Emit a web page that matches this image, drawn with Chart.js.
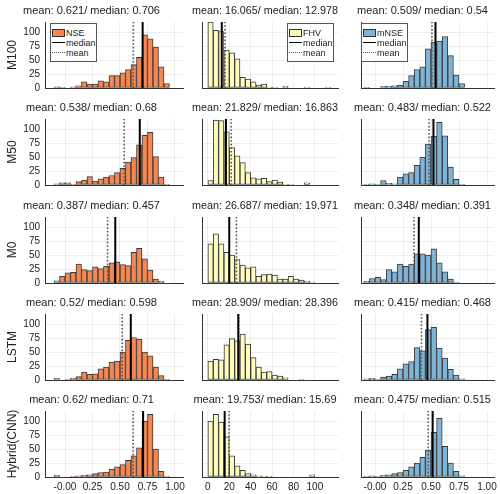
<!DOCTYPE html>
<html>
<head>
<meta charset="utf-8">
<script src="https://cdn.jsdelivr.net/npm/chart.js@4.4.0/dist/chart.umd.min.js"></script>
<style>
  body { margin: 0; background: #fff; }
  #wrap { position: relative; width: 500px; height: 494px; overflow: hidden; font-family: 'Liberation Sans', Arial, sans-serif; }
  #wrap canvas { position: absolute; }
  .legend { position: absolute; box-sizing: border-box; width: 47px; height: 39px; background: #fff; border: 1px solid #555;
            font-size: 9px; line-height: 10px; padding: 4px 0 0 1px; color: #222; }
  .legend div { white-space: nowrap; height: 10px; }
  .sw { display: inline-block; width: 13px; height: 8px; border: 1px solid #333; box-sizing: border-box; vertical-align: -1px; margin-right: 1px; }
  .ln { display: inline-block; width: 13px; height: 0; border-top: 1.5px solid #000; vertical-align: 3px; margin-right: 1px; }
  .dt { display: inline-block; width: 13px; height: 0; border-top: 1.5px dotted #555; vertical-align: 3px; margin-right: 1px; }
</style>
</head>
<body>
<div id="wrap"></div>
<script>
const rows = ['M100', 'M50', 'M0', 'LSTM', 'Hybrid(CNN)'];

// histogram bins: first bin start and bin width
const nseStart = -0.1, nseWidth = 0.05;
const fhvStart = 0, fhvWidth = 5;
const mnseStart = -0.1, mnseWidth = 0.05;

// NSE counts per bin
const nseM100 = [2, 1, 0, 2, 4, 11, 7, 7, 13, 11, 22, 22, 27, 33, 42, 55, 95, 88, 73, 38, 8];
const nseM50 = [2, 4, 4, 1, 6, 9, 15, 7, 11, 14, 17, 22, 30, 41, 49, 72, 89, 94, 51, 14, 1];
const nseM0 = [4, 12, 18, 19, 34, 24, 22, 29, 26, 30, 36, 38, 33, 31, 55, 62, 43, 23, 7, 3];
const nseLSTM = [3, 0, 1, 3, 6, 14, 10, 11, 20, 23, 32, 34, 50, 71, 76, 73, 50, 43, 23, 8, 1];
const nseHybrid = [3, 0, 0, 1, 2, 3, 4, 6, 8, 9, 14, 18, 22, 30, 38, 52, 100, 112, 50, 10, 1];

// FHV counts per bin
const fhvM100 = [118, 103, 101, 68, 63, 52, 19, 16, 11, 5, 7, 1, 1, 0, 3, 0, 0, 0, 1, 0, 0, 0, 1];
const fhvM50 = [8, 116, 115, 95, 67, 52, 40, 22, 13, 11, 12, 6, 9, 5, 1, 1, 0, 0, 4];
const fhvM0 = [70, 88, 70, 55, 50, 42, 32, 27, 29, 12, 15, 16, 14, 7, 7, 12, 7, 5, 3, 1];
const fhvLSTM = [34, 37, 36, 63, 74, 70, 82, 64, 40, 23, 14, 15, 9, 7, 4, 0, 0, 1];
const fhvHybrid = [100, 112, 98, 72, 38, 20, 12, 6, 4, 2, 1, 1, 0, 0, 0, 0, 0, 0, 0, 4];

// mNSE counts per bin
const mnseM100 = [1, 0, 0, 3, 3, 4, 5, 12, 22, 33, 38, 70, 82, 84, 92, 58, 23, 8];
const mnseM50 = [1, 2, 1, 8, 3, 2, 14, 20, 22, 35, 50, 73, 87, 112, 88, 32, 10, 1];
const mnseM0 = [3, 8, 10, 6, 24, 20, 34, 30, 34, 52, 52, 50, 61, 36, 20, 7, 1];
const mnseLSTM = [2, 3, 1, 5, 7, 10, 20, 29, 33, 58, 52, 90, 94, 57, 39, 19, 9, 2];
const mnseHybrid = [1, 2, 1, 3, 4, 6, 8, 12, 18, 25, 35, 48, 80, 105, 55, 25, 10, 2];

const nseMean = [0.621, 0.538, 0.387, 0.52, 0.62];
const nseMedian = [0.706, 0.68, 0.457, 0.598, 0.71];
const fhvMean = [16.065, 21.829, 26.687, 28.909, 19.753];
const fhvMedian = [12.978, 16.863, 19.971, 28.396, 15.69];
const mnseMean = [0.509, 0.483, 0.348, 0.415, 0.475];
const mnseMedian = [0.54, 0.522, 0.391, 0.468, 0.515];

const unitTicks = [0, 0.25, 0.5, 0.75, 1];
const unitTickLabels = ['-0.00', '0.25', '0.50', '0.75', '1.00'];
const fhvTicks = [0, 20, 40, 60, 80, 100];
const fhvTickLabels = ['0', '20', '40', '60', '80', '100'];
const yTicks = [0, 25, 50, 75, 100];
const yTickLabels = ['0', '25', '50', '75', '100'];

const columns = [
  { name: 'NSE', counts: [nseM100, nseM50, nseM0, nseLSTM, nseHybrid], start: nseStart, width: nseWidth,
    mean: nseMean, median: nseMedian, ticks: unitTicks, labels: unitTickLabels,
    min: -0.182, max: 1.073, color: 'rgb(246,135,80)' },
  { name: 'FHV', counts: [fhvM100, fhvM50, fhvM0, fhvLSTM, fhvHybrid], start: fhvStart, width: fhvWidth,
    mean: fhvMean, median: fhvMedian, ticks: fhvTicks, labels: fhvTickLabels,
    min: -5.5, max: 121.6, color: 'rgb(255,253,190)' },
  { name: 'mNSE', counts: [mnseM100, mnseM50, mnseM0, mnseLSTM, mnseHybrid], start: mnseStart, width: mnseWidth,
    mean: mnseMean, median: mnseMedian, ticks: unitTicks, labels: unitTickLabels,
    min: -0.125, max: 1.0625, color: 'rgb(128,180,215)' }
];

// layout of the 5x3 grid (pixels)
const colLeft = [45, 202, 361];
const colRight = [183, 338, 494];
const rowTop0 = 22, rowStep = 97.25, plotH = 66;
const yMax = 118;
const font = "'Liberation Sans', Arial, sans-serif";

const wrap = document.getElementById('wrap');

function makePanel(r, c) {
  const col = columns[c];
  const bottomRow = r === rows.length - 1;
  const L = c === 0 ? 45 : 10;
  const B = bottomRow ? 18 : 10;
  const titleH = 22;
  const pw = colRight[c] - colLeft[c];
  const top = Math.round(rowTop0 + rowStep * r);

  const cv = document.createElement('canvas');
  const cw = L + pw + L, ch = titleH + plotH + B;
  cv.width = cw; cv.height = ch;
  cv.style.left = (colLeft[c] - L) + 'px';
  cv.style.top = (top - titleH) + 'px';
  cv.style.width = cw + 'px';
  cv.style.height = ch + 'px';
  wrap.appendChild(cv);

  const bars = [];
  col.counts[r].forEach((n, i) => {
    if (n > 0) bars.push({ x: col.start + (i + 0.5) * col.width, y: n });
  });
  const med = col.median[r], mean = col.mean[r];

  new Chart(cv.getContext('2d'), {
    type: 'bar',
    data: {
      datasets: [
        { type: 'line', data: [{ x: med, y: 0 }, { x: med, y: yMax }], borderColor: '#000', borderWidth: 2,
          pointRadius: 0, order: 0 },
        { type: 'line', data: [{ x: mean, y: 0 }, { x: mean, y: yMax }], borderColor: '#555', borderWidth: 1.6,
          borderDash: [1.6, 2], pointRadius: 0, order: 1 },
        { data: bars, backgroundColor: col.color, borderColor: '#3a3a3a', borderWidth: 1, borderSkipped: false,
          barPercentage: 1, categoryPercentage: 1, order: 2 }
      ]
    },
    options: {
      responsive: false,
      animation: false,
      layout: { padding: { left: 0, right: L, top: 0, bottom: 0 } },
      plugins: {
        legend: { display: false },
        tooltip: { enabled: false },
        title: {
          display: true,
          text: 'mean: ' + mean + '/ median: ' + med,
          color: '#222',
          font: { family: font, size: 11, weight: 'normal', lineHeight: '13px' },
          padding: { top: 4, bottom: 5 }
        }
      },
      scales: {
        x: {
          type: 'linear', min: col.min, max: col.max, offset: false,
          afterBuildTicks: s => { s.ticks = col.ticks.map(v => ({ value: v })); },
          afterFit: s => { s.height = B; s.paddingLeft = 0; s.paddingRight = 0; },
          ticks: { display: bottomRow, color: '#222', font: { family: font, size: 10 }, padding: 4,
                   maxRotation: 0, autoSkip: false, callback: (v, i) => col.labels[i] },
          grid: { offset: false, color: 'rgba(0,0,0,0.07)', drawTicks: false },
          border: { display: true, color: '#333', width: 1 }
        },
        y: {
          min: 0, max: yMax,
          afterBuildTicks: s => { s.ticks = yTicks.map(v => ({ value: v })); },
          afterFit: s => { s.width = L; s.paddingTop = 0; s.paddingBottom = 0; },
          ticks: { display: c === 0, color: '#222', font: { family: font, size: 10 }, padding: 5,
                   callback: (v, i) => yTickLabels[i] },
          grid: { color: 'rgba(0,0,0,0.07)', drawTicks: false },
          border: { display: true, color: '#333', width: 1 },
          title: { display: c === 0, text: rows[r], color: '#222', font: { family: font, size: 12 },
                   padding: { top: 5, bottom: 0 } }
        }
      }
    }
  });
}

for (let r = 0; r < rows.length; r++) {
  for (let c = 0; c < columns.length; c++) makePanel(r, c);
}

// legends in the first row
const legendLeft = [50, 287, 361];
columns.forEach((col, c) => {
  const lg = document.createElement('div');
  lg.className = 'legend';
  lg.style.left = legendLeft[c] + 'px';
  lg.style.top = rowTop0 + 1 + 'px';
  lg.innerHTML =
    '<div><span class="sw" style="background:' + col.color + '"></span>' + col.name + '</div>' +
    '<div><span class="ln"></span>median</div>' +
    '<div><span class="dt"></span>mean</div>';
  wrap.appendChild(lg);
});
</script>
</body>
</html>
